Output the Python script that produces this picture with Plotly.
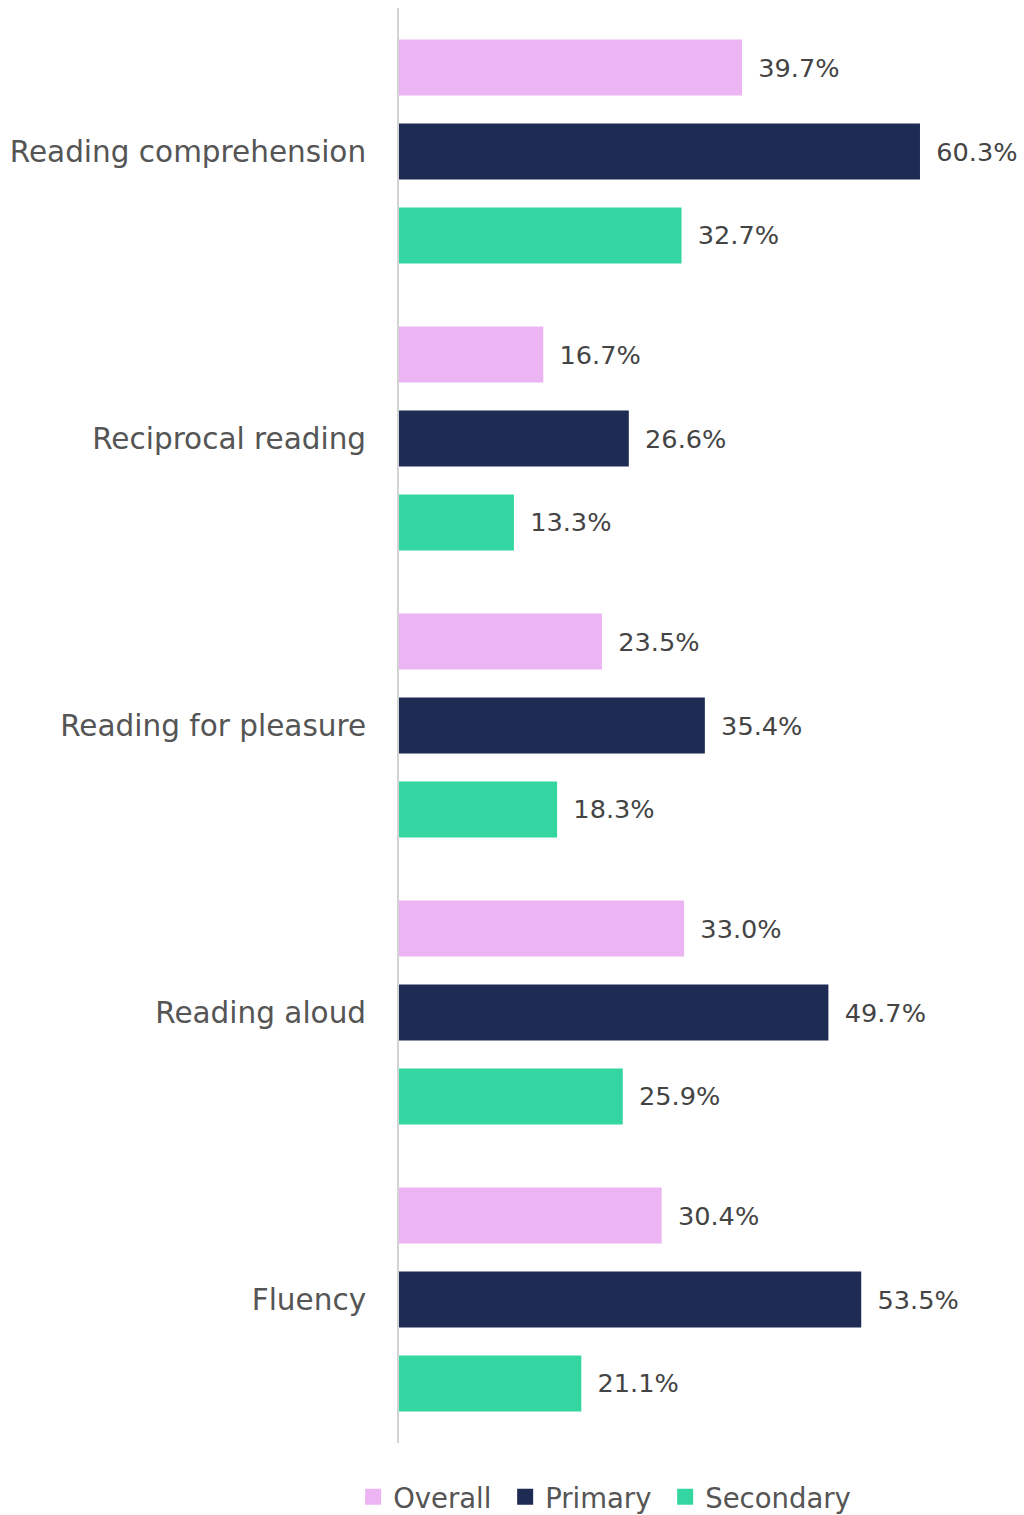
import plotly.graph_objects as go

categories = ["Reading comprehension", "Reciprocal reading", "Reading for pleasure",
              "Reading aloud", "Fluency"]
overall = [39.7, 16.7, 23.5, 33.0, 30.4]
primary = [60.3, 26.6, 35.4, 49.7, 53.5]
secondary = [32.7, 13.3, 18.3, 25.9, 21.1]

series = [("Overall", overall, "#ecb4f3"),
          ("Primary", primary, "#1e2b52"),
          ("Secondary", secondary, "#33d6a0")]

FONT = "DejaVu Sans"

fig = go.Figure()
for name, vals, color in series:
    fig.add_trace(go.Bar(
        y=categories, x=vals, name=name, orientation="h",
        marker=dict(color=color, line=dict(width=0)),
        texttemplate="\u00a0\u2009%{x:.1f}%", textposition="outside",
        textfont=dict(family=FONT, size=25.6, color="#444444"),
        cliponaxis=False, showlegend=False,
    ))

# legend entries drawn as larger square swatches; a trailing space widens item spacing
legend_names = ["Overall\u00a0", "Primary\u00a0", "Secondary"]
for (name, _, color), label in zip(series, legend_names):
    fig.add_trace(go.Scatter(
        x=[None], y=[None], mode="markers", name=label,
        marker=dict(symbol="square", size=17, color=color),
        showlegend=True,
    ))

fig.update_layout(
    width=1024, height=1515,
    margin=dict(l=399, r=0, t=8, b=72, autoexpand=False),
    barmode="group", bargap=0.122, bargroupgap=0.333,
    plot_bgcolor="white", paper_bgcolor="white",
    legend=dict(orientation="h", x=0.329, xanchor="center", y=-0.0376, yanchor="middle",
                font=dict(family=FONT, size=27.5, color="#555555"),
                itemsizing="trace", itemwidth=30, traceorder="normal"),
    font=dict(family=FONT),
)
fig.update_xaxes(range=[0, 72.34], showgrid=False, zeroline=False,
                 showticklabels=False, showline=False)
fig.update_yaxes(autorange="reversed", showgrid=False, showline=True,
                 linecolor="#d3d3d3", linewidth=2, ticks="",
                 ticklabelstandoff=25,
                 tickfont=dict(family=FONT, size=29.5, color="#555555"))

fig.write_html("out.html")
